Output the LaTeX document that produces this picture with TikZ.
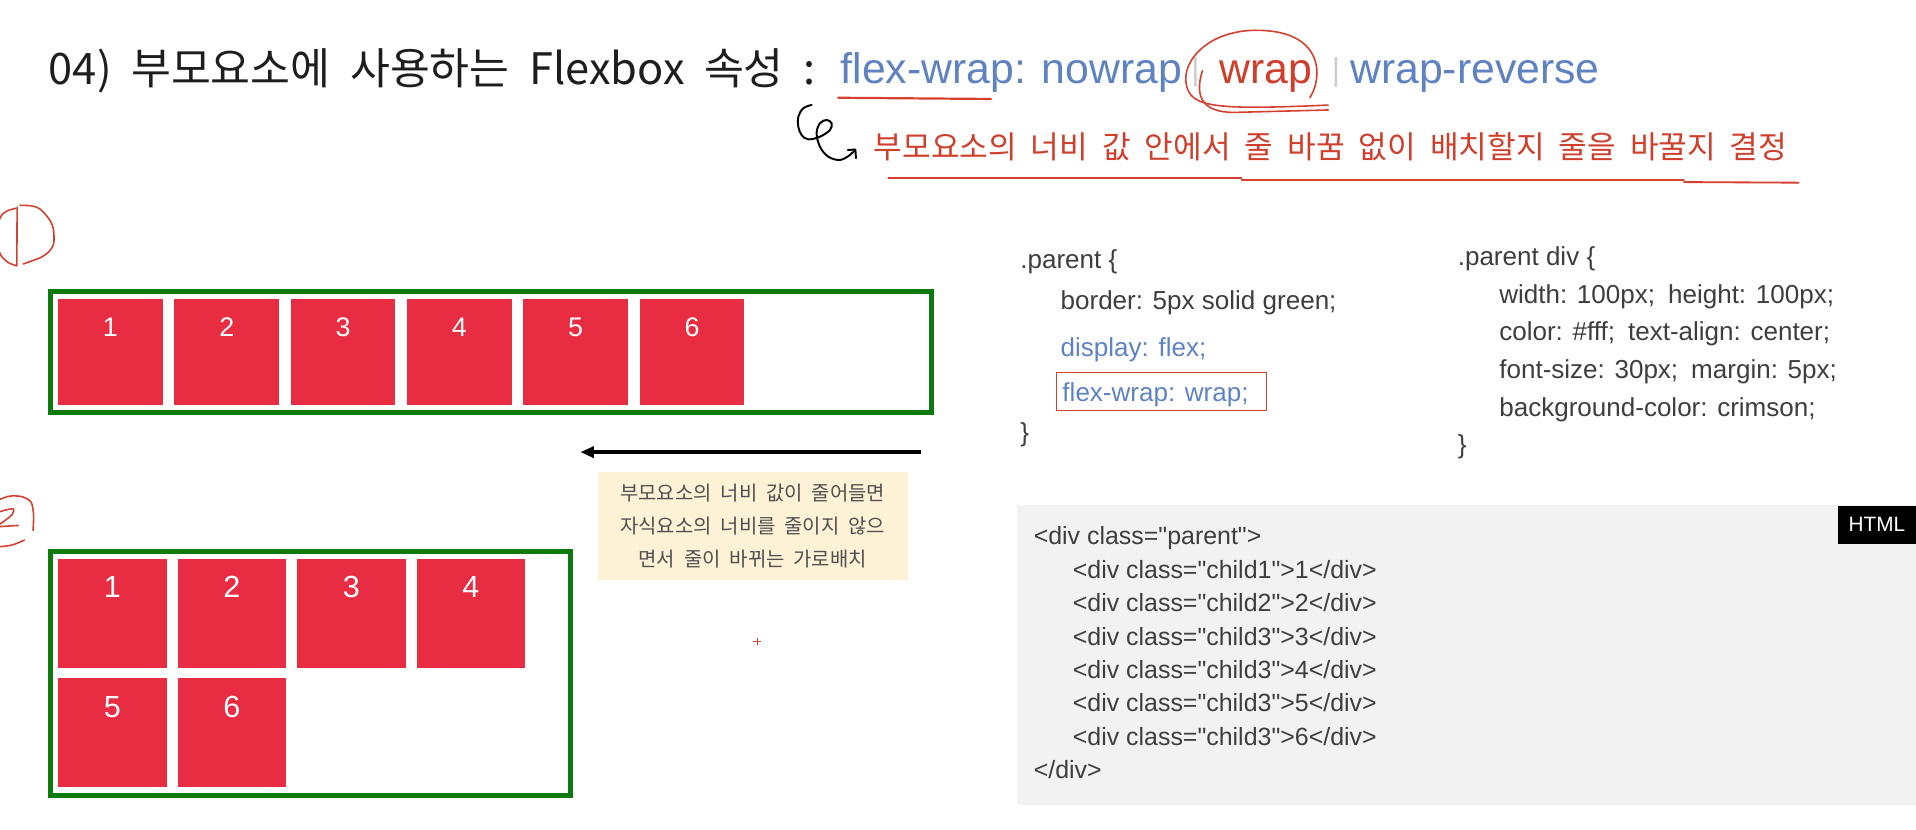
\documentclass[tikz,border=0pt]{standalone}
\usepackage{fontspec}
\setmainfont{Liberation Sans}
\newfontfamily\kr[WordSpace=2.7]{Noto Sans CJK KR}
\newfontfamily\krs[WordSpace=2.7]{Noto Sans CJK KR}
\newfontfamily\krn[WordSpace=2.0]{Noto Sans CJK KR}
\newfontfamily\lat{Liberation Sans}
\usetikzlibrary{arrows.meta}
\definecolor{redpen}{RGB}{214,64,48}
\definecolor{redtext}{RGB}{208,62,44}
\definecolor{bluetext}{RGB}{95,130,195}
\definecolor{sepgray}{RGB}{205,205,205}
\definecolor{gboxc}{RGB}{12,122,12}
\definecolor{crim}{RGB}{232,44,66}
\definecolor{notebg}{RGB}{253,241,214}
\definecolor{notetext}{RGB}{80,80,80}
\definecolor{codetxt}{RGB}{62,62,62}
\definecolor{htmlbg}{RGB}{242,242,242}
\definecolor{titletxt}{RGB}{30,30,30}
\tikzset{
  pen/.style={draw=redpen, line width=1.3pt, line cap=round, line join=round},
  ink/.style={draw=black, line width=1.6pt, line cap=round, line join=round},
  gbox/.style={draw=gboxc, line width=4pt, anchor=north west, inner sep=0pt},
  sqa/.style={fill=crim, minimum width=85.5pt, minimum height=86.5pt, inner sep=0pt, anchor=north west},
  sqb/.style={fill=crim, minimum width=89pt, minimum height=89pt, inner sep=0pt, anchor=north west},
  numa/.style={text=white, anchor=base, font=\lat\fontsize{22}{26}\selectfont},
  numb/.style={text=white, anchor=base, font=\lat\fontsize{25}{30}\selectfont},
  code/.style={anchor=base west, text=codetxt, font=\lat\fontsize{21.3}{26}\selectfont},
  codeblue/.style={code, text=bluetext},
  html/.style={anchor=base west, text=codetxt, font=\lat\fontsize{20.4}{24}\selectfont},
  big/.style={anchor=base west, font=\lat\fontsize{35}{40}\selectfont},
  notetxt/.style={anchor=base, text=notetext, font=\krn\fontsize{16.3}{19}\selectfont},
}
\begin{document}
\begin{tikzpicture}[x=1pt,y=-1pt, every node/.style={inner sep=0pt, outer sep=0pt}]
\useasboundingbox[fill=white] (0,0) rectangle (1568,679);

% ---- title ----
\node[anchor=base west, text=titletxt, font=\kr\fontsize{35.5}{40}\selectfont] (title) at (40,69) {04) 부모요소에 사용하는 Flexbox 속성 :};
\node[big, text=bluetext] (fw) at (688,68) {flex-wrap: nowrap};
\node[big, text=sepgray, font=\lat\fontsize{26}{30}\selectfont] (sep1) at (975,66) {|};
\node[big, text=redtext] (wr) at (998,68) {wrap};
\node[big, text=sepgray, font=\lat\fontsize{26}{30}\selectfont] (sep2) at (1090,66) {|};
\node[big, text=bluetext] (wrr) at (1105,68) {wrap-reverse};

% red underline under flex-wrap
\draw[pen, line width=1.8pt] (686,80) -- (811,81);
% red circle around wrap
\draw[pen] (1072,80) .. controls (1083,62) and (1082,28) .. (1035,25)
  .. controls (990,22) and (966,50) .. (971,70)
  .. controls (975,88) and (995,90) .. (1087,86);
\draw[pen] (984,58) .. controls (977,80) and (985,92) .. (1010,92) -- (1087,90);

% black curly arrow
\draw[ink] plot[smooth, tension=0.6] coordinates {(664.2,85.9) (657.4,88.6) (653.3,95.5) (653.3,103.7) (656,110.5) (661.5,114) (671,111.9) (679.2,106.4) (680.6,100.9) (676.5,98.2) (671,100.9) (668.3,109.1) (671,120) (677.8,128.2) (687.4,130.9) (695.6,126.8) (699.7,122.7)};
\draw[ink] (693.8,122.7) -- (700,122.4) -- (700.5,129.5);

% red subtitle
\node[anchor=base west, text=redtext, font=\krs\fontsize{25.5}{30}\selectfont] (sub) at (715,130) {부모요소의 너비 값 안에서 줄 바꿈 없이 배치할지 줄을 바꿀지 결정};
\draw[pen, line width=1.5pt] (727,146) -- (1016,146);
\draw[pen, line width=1.5pt] (1016,147.5) -- (1100,147.5);
\draw[pen, line width=1.5pt] (1100,147) -- (1378,147);
\draw[pen, line width=1.5pt] (1378,149) -- (1472,149.5);

% circled numbers (hand drawn)
\draw[pen] (14,169.5) -- (13.8,217.5);
\draw[pen] plot[smooth] coordinates {(16.4,168) (26,168.5) (32.7,171) (40,179) (43.6,187) (44,199) (40,206) (32.7,211) (19,216)};
\draw[pen] plot[smooth] coordinates {(13,170.5) (6,172.5) (1.4,176) (-1,181)};
\draw[pen] plot[smooth] coordinates {(-1,205) (1.4,210) (7,215) (13.6,217.5)};
\draw[pen] plot[smooth] coordinates {(-1,409) (8,406) (18,406.5) (25.5,411) (27.5,422) (27,434)};
\draw[pen] plot[smooth] coordinates {(-1,419) (6,417) (11,416.5) (10,421) (4,426) (-1,429.5)};
\draw[pen] (-1,431) -- (15,430);
\draw[pen] plot[smooth] coordinates {(-1,447.5) (10,446) (20,442)};

% ---- box 1 ----
\node[gbox, minimum width=721pt, minimum height=99pt] (box1) at (41,238.5) {};
\foreach \i in {1,...,6} {
  \node[sqa] (a\i) at ({47.6+95.2*(\i-1)},245) {};
  \node[numa] (na\i) at ([yshift=-30.5pt]a\i.north) {\i};
}

% arrow
\coordinate (arrS) at (754,370);
\coordinate (arrE) at (475,370);
\draw[line width=2.7pt, -{Triangle[length=11pt,width=9pt]}] (arrS) -- (arrE);

% note
\node[fill=notebg, minimum width=254pt, minimum height=89pt, anchor=north west] (note) at (489,386) {};
\node[notetxt] (n1) at (616,410) {부모요소의 너비 값이 줄어들면};
\node[notetxt] (n2) at (616,437) {자식요소의 너비를 줄이지 않으};
\node[notetxt] (n3) at (616,464) {면서 줄이 바뀌는 가로배치};

% tiny red plus
\draw[draw=redpen, line width=0.9pt] (616.5,525) -- (623,525);
\draw[draw=redpen, line width=0.9pt] (619.7,521.8) -- (619.7,528.2);

% ---- box 2 ----
\node[gbox, minimum width=426pt, minimum height=200pt] (box2) at (41,451) {};
\foreach \i in {1,...,4} {
  \node[sqb] (b\i) at ({47.5+97.8*(\i-1)},457.7) {};
  \node[numb] (nb\i) at ([yshift=-31.5pt]b\i.north) {\i};
}
\foreach \i/\j in {1/5,2/6} {
  \node[sqb] (c\i) at ({47.5+97.8*(\i-1)},555) {};
  \node[numb] (nc\i) at ([yshift=-32pt]c\i.north) {\j};
}

% ---- CSS ----
\node[code] (p1) at (835,219.5) {.parent \{};
\node[code] (p2) at (868,253.5) {border: 5px solid green;};
\node[codeblue] (p3) at (868,291.5) {display: flex;};
\node[codeblue] (p4) at (869.5,328.5) {flex-wrap: wrap;};
\node[draw=redpen, line width=1pt, minimum width=172pt, minimum height=31pt, anchor=north west] (p4box) at (864.7,305) {};
\node[code] (p5) at (835,361) {\}};

\node[code] (q1) at (1193,217.5) {.parent div \{};
\node[code] (q2) at (1227,248) {width: 100px;\hspace{0.5em}height: 100px;};
\node[code] (q3) at (1227,279) {color: \#fff;\hspace{0.5em}text-align: center;};
\node[code] (q4) at (1227,310) {font-size: 30px;\hspace{0.5em}margin: 5px;};
\node[code] (q5) at (1227,341) {background-color: crimson;};
\node[code] (q6) at (1193,371) {\}};

% ---- HTML ----
\node[fill=htmlbg, minimum width=736pt, minimum height=246pt, anchor=north west] (hbox) at (832,413) {};
\node[fill=black, minimum width=64pt, minimum height=31pt, anchor=north east] (htag) at (1568,414) {};
\node[text=white, font=\lat\fontsize{17}{20}\selectfont] (htagt) at (htag.center) {HTML};
\node[html] (h1) at (846,446) {<div class="parent">};
\node[html] (h2) at (878,473.3) {<div class="child1">1</div>};
\node[html] (h3) at (878,500.6) {<div class="child2">2</div>};
\node[html] (h4) at (878,528) {<div class="child3">3</div>};
\node[html] (h5) at (878,555.3) {<div class="child3">4</div>};
\node[html] (h6) at (878,582.6) {<div class="child3">5</div>};
\node[html] (h7) at (878,610) {<div class="child3">6</div>};
\node[html] (h8) at (846,637.3) {</div>};
\end{tikzpicture}
\end{document}
